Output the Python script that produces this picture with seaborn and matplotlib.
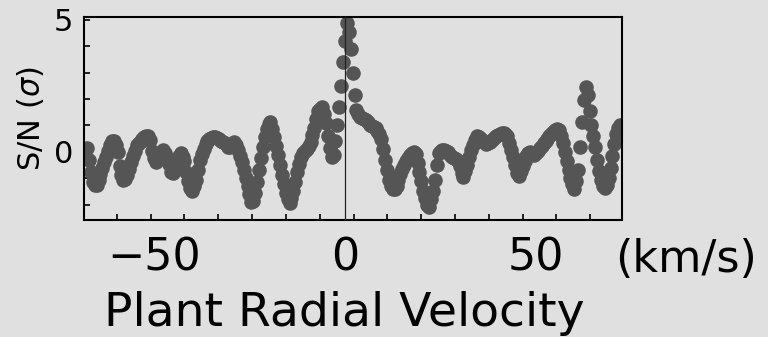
import numpy as np
import pandas as pd
import matplotlib
matplotlib.use("Agg")
import matplotlib.pyplot as plt
import seaborn as sns
from matplotlib.ticker import FixedLocator, MultipleLocator

# ---------------- data ----------------
velocity_start = -67.5
velocity_stop = 72.0
velocity_step = 0.5

snr = [
    0.15, -0.30, -0.75, -1.14, -1.25, -1.27, -1.05, -0.85, -0.62, -0.40,
    -0.18, 0.05, 0.27, 0.40, 0.43, 0.28, 0.00, -0.52, -0.88, -1.06,
    -1.02, -0.88, -0.65, -0.40, -0.17, 0.05, 0.27, 0.35, 0.42, 0.47,
    0.55, 0.62, 0.60, 0.45, 0.05, -0.22, -0.38, -0.28, -0.13, -0.03,
    0.07, -0.05, -0.22, -0.45, -0.75, -0.80, -0.60, -0.40, -0.15, -0.06,
    -0.18, -0.35, -0.75, -1.12, -1.38, -1.50, -1.28, -1.06, -0.68, -0.30,
    -0.08, 0.12, 0.29, 0.40, 0.50, 0.54, 0.56, 0.57, 0.53, 0.48,
    0.43, 0.39, 0.35, 0.28, 0.20, 0.17, 0.26, 0.36, 0.28, 0.08,
    -0.15, -0.38, -0.68, -0.98, -1.28, -1.58, -1.88, -1.85, -1.55, -1.15,
    -0.68, -0.25, 0.20, 0.58, 0.85, 1.07, 1.12, 0.85, 0.58, 0.23,
    -0.11, -0.49, -0.87, -1.22, -1.57, -1.78, -1.95, -1.75, -1.50, -1.14,
    -0.76, -0.46, -0.21, -0.06, 0.03, 0.12, 0.21, 0.37, 0.63, 0.90,
    1.24, 1.55, 1.64, 1.70, 1.45, 1.10, 0.60, 0.15, -0.20, -0.10,
    0.40, 1.00, 1.70, 2.50, 3.40, 4.20, 4.90, 4.55, 3.90, 3.00,
    2.15, 1.60, 1.42, 1.33, 1.29, 1.25, 1.21, 1.12, 1.02, 0.98,
    0.94, 0.90, 0.80, 0.68, 0.48, 0.10, -0.30, -0.68, -1.05, -1.30,
    -1.42, -1.40, -1.28, -1.08, -0.85, -0.66, -0.50, -0.35, -0.22, -0.12,
    -0.04, 0.00, -0.08, -0.42, -0.78, -1.12, -1.50, -1.75, -2.00, -2.10,
    -1.80, -1.50, -1.05, -0.50, -0.05, 0.03, 0.08, 0.06, 0.03, 0.00,
    -0.10, -0.20, -0.25, -0.28, -0.35, -0.55, -0.80, -0.95, -0.72, -0.49,
    -0.20, 0.08, 0.27, 0.45, 0.60, 0.56, 0.50, 0.43, 0.36, 0.29,
    0.32, 0.38, 0.45, 0.52, 0.60, 0.65, 0.68, 0.71, 0.72, 0.68,
    0.60, 0.35, 0.08, -0.20, -0.49, -0.80, -0.90, -0.72, -0.55, -0.35,
    -0.15, -0.05, 0.00, -0.05, -0.10, -0.05, 0.05, 0.15, 0.23, 0.32,
    0.40, 0.50, 0.60, 0.68, 0.76, 0.83, 0.86, 0.82, 0.60, 0.35,
    0.00, -0.36, -0.70, -1.00, -1.22, -1.40, -1.10, -0.70, 0.19, 1.14,
    1.97, 2.46, 2.15, 1.55, 1.00, 0.60, 0.20, -0.30, -0.72, -1.06,
    -1.28, -1.36, -1.27, -1.00, -0.62, -0.15, 0.30, 0.68, 0.91, 1.02,
]

x_tick_values = [-50, 0, 50]
x_tick_labels = ["\u221250", "0", "50"]
y_tick_values = [0, 5]
y_tick_labels = ["0", "5"]
x_unit = "(km/s)"
x_title = "Plant Radial Velocity"
y_title = "S/N ($\\sigma$)"

velocity = np.arange(velocity_start, velocity_stop + velocity_step / 2, velocity_step)
df = pd.DataFrame({"velocity": velocity, "snr": snr})

# ---------------- style ----------------
sns.set_style("white")
plt.rcParams["font.family"] = ["DejaVu Sans"]
plt.rcParams["mathtext.fontset"] = "dejavusans"
BG = "#e0e0e0"
DOT = "#555555"

fig = plt.figure(figsize=(7.68, 3.37), dpi=100, facecolor=BG)
ax = fig.add_axes([84 / 768, 1 - 220 / 337, 538 / 768, 203 / 337])
ax.set_facecolor(BG)

sns.scatterplot(data=df, x="velocity", y="snr", color=DOT, s=110,
                linewidth=0, ax=ax, zorder=2, legend=False)
ax.axvline(0, color="#222222", lw=0.9, zorder=3)

ax.set_xlim(-68.3, 72.5)
ax.set_ylim(-2.58, 5.11)

for sp in ax.spines.values():
    sp.set_color("black")
    sp.set_linewidth(1.5)

# x ticks: labels at -50/0/50, small inward minor ticks
ax.xaxis.set_major_locator(FixedLocator(x_tick_values))
ax.set_xticklabels(x_tick_labels)
ax.xaxis.set_minor_locator(FixedLocator(np.arange(-59.7, 70, 8.85)))
ax.tick_params(axis="x", which="major", length=0, pad=12, labelsize=32,
               labelcolor="black")
ax.tick_params(axis="x", which="minor", direction="in", length=4, width=1.2,
               color="black", bottom=True)

# y ticks
ax.yaxis.set_major_locator(FixedLocator(y_tick_values))
ax.set_yticklabels(y_tick_labels)
ax.yaxis.set_minor_locator(MultipleLocator(1))
ax.tick_params(axis="y", which="both", direction="in", length=4, width=1.2,
               color="black", left=True)
ax.tick_params(axis="y", which="major", pad=8, labelsize=22, labelcolor="black")

ax.set_xlabel(x_title, fontsize=34, labelpad=8, color="black")
ax.xaxis.label.set_x(0.484)
ax.set_ylabel(y_title, fontsize=22, color="black")
ax.yaxis.set_label_coords(-0.071, 0.5)

ax.annotate(x_unit, xy=(0.987, -0.256), xycoords="axes fraction",
            ha="left", va="baseline", fontsize=32, color="black",
            annotation_clip=False)

fig.savefig("out.png", dpi=100, facecolor=BG)
